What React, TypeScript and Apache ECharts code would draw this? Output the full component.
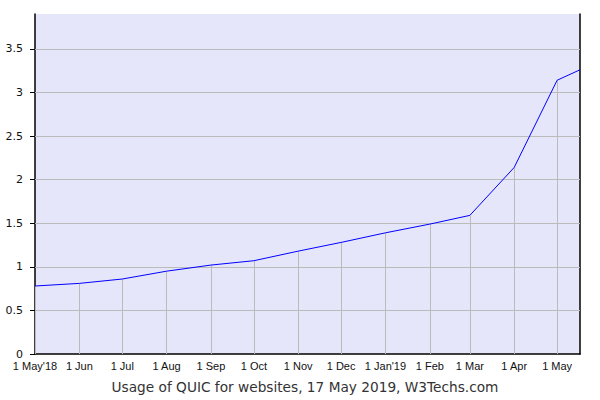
import React, { useEffect, useRef } from "react";
import * as echarts from "echarts";

const dates = [
  "2018-05-01", "2018-06-01", "2018-07-01", "2018-08-01", "2018-09-01", "2018-10-01",
  "2018-11-01", "2018-12-01", "2019-01-01", "2019-02-01", "2019-03-01", "2019-04-01",
  "2019-05-01", "2019-05-17",
];
const usage = [0.78, 0.81, 0.86, 0.95, 1.02, 1.07, 1.18, 1.28, 1.39, 1.49, 1.59, 2.14, 3.14, 3.26];
const tickDates = [
  "2018-05-01", "2018-06-01", "2018-07-01", "2018-08-01", "2018-09-01", "2018-10-01",
  "2018-11-01", "2018-12-01", "2019-01-01", "2019-02-01", "2019-03-01", "2019-04-01", "2019-05-01",
];
const tickLabels = [
  "1 May'18", "1 Jun", "1 Jul", "1 Aug", "1 Sep", "1 Oct", "1 Nov", "1 Dec",
  "1 Jan'19", "1 Feb", "1 Mar", "1 Apr", "1 May",
];
const yTicks = [0, 0.5, 1, 1.5, 2, 2.5, 3, 3.5];
const title = "Usage of QUIC for websites, 17 May 2019, W3Techs.com";

const ts = (d: string) => Date.UTC(+d.slice(0, 4), +d.slice(5, 7) - 1, +d.slice(8, 10));

export default function App() {
  const ref = useRef<HTMLDivElement>(null);
  useEffect(() => {
    if (!ref.current) return;
    const chart = echarts.init(ref.current, undefined, { renderer: "svg" });
    const tickTs = tickDates.map(ts);
    const points = dates.map((d, i) => [ts(d), usage[i]]);
    const drops = points
      .filter((p) => tickTs.includes(p[0] as number))
      .map((p) => [
        { coord: [p[0], 0] },
        { coord: [p[0], p[1]] },
      ]);
    chart.setOption({
      animation: false,
      title: {
        text: title,
        left: 300,
        textAlign: "center",
        top: 375,
        textStyle: { fontFamily: "DejaVu Sans", fontSize: 13.7, fontWeight: "normal", color: "#333" },
      },
      grid: { left: 35, right: 20, top: 14, bottom: 46, backgroundColor: "#e6e6fa", show: true, borderWidth: 0 },
      xAxis: {
        type: "value",
        min: ts(dates[0]),
        max: ts(dates[dates.length - 1]),
        axisLine: { show: true, lineStyle: { color: "#000", width: 1.5 } },
        axisTick: { show: false },
        splitLine: { show: false },
        axisLabel: {
          customValues: tickTs,
          formatter: (v: number) => {
            const i = tickTs.indexOf(v);
            return i >= 0 ? tickLabels[i] : "";
          },
          fontFamily: "Liberation Sans",
          fontSize: 11,
          color: "#111",
          margin: 6,
          hideOverlap: false,
        },
      },
      yAxis: [
        {
          type: "value",
          min: 0,
          max: 3.9,
          axisLine: { show: true, lineStyle: { color: "#000", width: 1.5 } },
          axisTick: { show: true, length: 5, lineStyle: { color: "#000" }, customValues: yTicks },
          splitLine: { show: false },
          axisLabel: {
            customValues: yTicks,
            formatter: (v: number) => String(v),
            fontFamily: "DejaVu Sans",
            fontSize: 11,
            color: "#111",
            margin: 12,
          },
        },
        {
          type: "value",
          position: "right",
          min: 0,
          max: 3.9,
          axisLine: { show: true, lineStyle: { color: "#000", width: 1.5 } },
          axisTick: { show: false },
          axisLabel: { show: false },
          splitLine: { show: false },
        },
      ],
      series: [
        {
          type: "line",
          data: points,
          showSymbol: false,
          symbol: "none",
          lineStyle: { color: "#0000ff", width: 1 },
          z: 5,
          markLine: {
            silent: true,
            symbol: "none",
            label: { show: false },
            lineStyle: { color: "#bbb", width: 1, type: "solid" },
            data: [
              ...drops,
              ...yTicks.filter((v) => v > 0).map((v) => ({ yAxis: v })),
            ],
            z: 1,
          },
        },
      ],
    });
    return () => chart.dispose();
  }, []);
  return <div ref={ref} style={{ width: 600, height: 400, position: "absolute", left: 0, top: 0 }} />;
}
